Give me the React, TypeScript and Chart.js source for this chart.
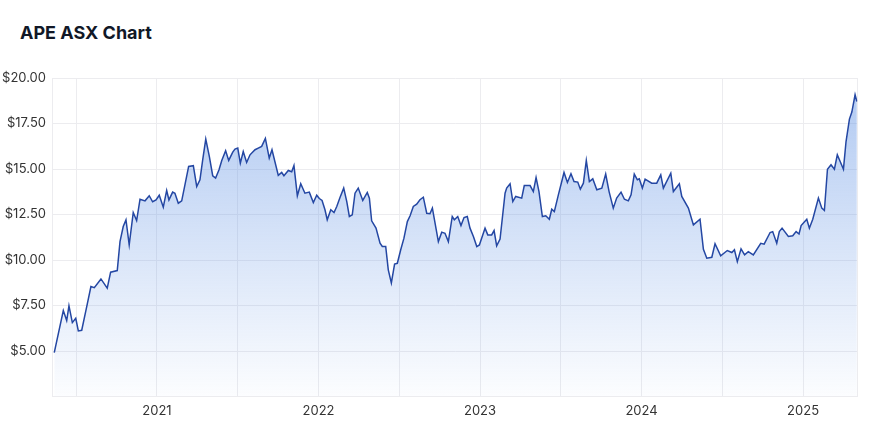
import React, { useEffect, useRef } from "react";
import { Chart, registerables } from "chart.js";

Chart.register(...registerables);

const TITLE = "APE ASX Chart";

// x positions as decimal years
const dates: number[] = [
  2020.364, 2020.42, 2020.441, 2020.455, 2020.476, 2020.497, 2020.513, 2020.534, 2020.565, 2020.591,
  2020.612, 2020.653, 2020.692, 2020.713, 2020.754, 2020.771, 2020.791, 2020.808, 2020.828, 2020.853,
  2020.874, 2020.895, 2020.926, 2020.952, 2020.973, 2020.994, 2021.014, 2021.039, 2021.06, 2021.074,
  2021.097, 2021.111, 2021.132, 2021.153, 2021.173, 2021.196, 2021.225, 2021.246, 2021.266, 2021.283,
  2021.302, 2021.324, 2021.345, 2021.363, 2021.384, 2021.401, 2021.425, 2021.444, 2021.469, 2021.483,
  2021.5, 2021.516, 2021.534, 2021.555, 2021.576, 2021.607, 2021.627, 2021.648, 2021.671, 2021.695,
  2021.712, 2021.751, 2021.772, 2021.786, 2021.813, 2021.834, 2021.848, 2021.869, 2021.89, 2021.916,
  2021.943, 2021.968, 2021.989, 2022.005, 2022.022, 2022.04, 2022.054, 2022.076, 2022.096, 2022.113,
  2022.133, 2022.156, 2022.175, 2022.191, 2022.209, 2022.226, 2022.246, 2022.274, 2022.302, 2022.315,
  2022.329, 2022.356, 2022.381, 2022.395, 2022.416, 2022.432, 2022.451, 2022.471, 2022.488, 2022.509,
  2022.529, 2022.55, 2022.567, 2022.587, 2022.608, 2022.628, 2022.649, 2022.67, 2022.69, 2022.705,
  2022.742, 2022.763, 2022.783, 2022.804, 2022.828, 2022.841, 2022.862, 2022.882, 2022.901, 2022.921,
  2022.938, 2022.959, 2022.98, 2022.996, 2023.031, 2023.048, 2023.072, 2023.087, 2023.103, 2023.124,
  2023.155, 2023.165, 2023.186, 2023.203, 2023.221, 2023.258, 2023.274, 2023.31, 2023.33, 2023.347,
  2023.365, 2023.386, 2023.407, 2023.429, 2023.444, 2023.46, 2023.485, 2023.52, 2023.541, 2023.563,
  2023.582, 2023.605, 2023.621, 2023.64, 2023.658, 2023.677, 2023.698, 2023.723, 2023.754, 2023.778,
  2023.799, 2023.825, 2023.846, 2023.873, 2023.894, 2023.918, 2023.935, 2023.955, 2023.974, 2023.986,
  2024.005, 2024.022, 2024.063, 2024.094, 2024.119, 2024.135, 2024.181, 2024.197, 2024.234, 2024.249,
  2024.29, 2024.321, 2024.362, 2024.383, 2024.404, 2024.435, 2024.455, 2024.49, 2024.531, 2024.559,
  2024.575, 2024.593, 2024.616, 2024.638, 2024.661, 2024.692, 2024.738, 2024.759, 2024.796, 2024.812,
  2024.837, 2024.853, 2024.87, 2024.909, 2024.936, 2024.957, 2024.975, 2024.988, 2025.023, 2025.039,
  2025.06, 2025.095, 2025.116, 2025.132, 2025.151, 2025.173, 2025.194, 2025.212, 2025.25, 2025.266,
  2025.287, 2025.302, 2025.322, 2025.333,
];

const prices: number[] = [
  4.91, 7.22, 6.67, 7.48, 6.56, 6.8, 6.1, 6.14, 7.44, 8.54,
  8.48, 8.96, 8.45, 9.33, 9.42, 11.01, 11.84, 12.2, 10.83, 12.61,
  12.17, 13.34, 13.25, 13.53, 13.2, 13.3, 13.56, 12.9, 13.82, 13.3,
  13.73, 13.67, 13.12, 13.25, 14.13, 15.14, 15.18, 14.04, 14.41, 15.5,
  16.64, 15.69, 14.63, 14.5, 14.96, 15.47, 16.0, 15.47, 15.93, 16.09,
  16.15, 15.32, 15.96, 15.36, 15.78, 16.06, 16.15, 16.24, 16.68, 15.6,
  16.06, 14.65, 14.81, 14.63, 14.92, 14.85, 15.19, 13.53, 14.19, 13.67,
  13.73, 13.16, 13.56, 13.38, 13.27, 12.76, 12.21, 12.76, 12.61, 12.94,
  13.43, 13.95, 13.21, 12.39, 12.48, 13.67, 13.95, 13.27, 13.71, 13.4,
  12.15, 11.75, 10.92, 10.74, 10.74, 9.46, 8.74, 9.78, 9.82, 10.56,
  11.2, 12.11, 12.43, 12.94, 13.07, 13.31, 13.45, 12.57, 12.54, 12.85,
  11.01, 11.53, 11.47, 11.01, 12.39, 12.21, 12.39, 11.89, 12.33, 12.39,
  11.75, 11.29, 10.74, 10.83, 11.75, 11.38, 11.38, 11.62, 10.78, 11.15,
  13.67, 13.95, 14.19, 13.21, 13.49, 13.4, 14.09, 14.09, 13.76, 14.53,
  13.76, 12.39, 12.43, 12.24, 12.79, 12.66, 13.58, 14.81, 14.26, 14.74,
  14.31, 14.28, 13.89, 14.22, 15.47, 14.31, 14.46, 13.86, 13.95, 14.72,
  13.76, 12.85, 13.4, 13.73, 13.34, 13.25, 13.58, 14.72, 14.41, 14.46,
  13.95, 14.44, 14.22, 14.22, 14.68, 13.95, 14.77, 13.76, 14.19, 13.49,
  12.85, 11.93, 12.24, 10.59, 10.1, 10.15, 10.89, 10.23, 10.52, 10.41,
  10.56, 9.91, 10.61, 10.28, 10.46, 10.28, 10.92, 10.87, 11.51, 11.56,
  10.92, 11.56, 11.75, 11.29, 11.33, 11.56, 11.43, 11.89, 12.24, 11.75,
  12.24, 13.4, 12.85, 12.72, 14.99, 15.23, 14.99, 15.78, 14.99, 16.51,
  17.74, 18.13, 19.08, 18.71,
];

const X_MIN = 2020.35;
const X_MAX = 2025.337;
const Y_MIN = 2.5;
const Y_MAX = 20;

const xTicks: number[] = [2020.5, 2021, 2021.5, 2022, 2022.5, 2023, 2023.5, 2024, 2024.5, 2025, X_MAX];
const xLabels: string[] = ["", "2021", "", "2022", "", "2023", "", "2024", "", "2025", ""];
const yTicks: number[] = [5, 7.5, 10, 12.5, 15, 17.5, 20];
const yLabels: string[] = ["$5.00", "$7.50", "$10.00", "$12.50", "$15.00", "$17.50", "$20.00"];

export default function App() {
  const ref = useRef<HTMLCanvasElement | null>(null);

  useEffect(() => {
    if (!ref.current) return;
    const gridColor = "#ececef";
    const chart = new Chart(ref.current, {
      type: "line",
      data: {
        datasets: [
          {
            data: dates.map((d, i) => ({ x: d, y: prices[i] })),
            borderColor: "#2447a3",
            borderWidth: 1.5,
            pointRadius: 0,
            tension: 0,
            fill: "start",
            backgroundColor: (ctx: any) => {
              const area = ctx.chart.chartArea;
              if (!area) return "rgba(120,160,230,0.3)";
              const g = ctx.chart.ctx.createLinearGradient(0, area.top, 0, area.bottom);
              g.addColorStop(0, "rgba(96,146,228,0.50)");
              g.addColorStop(1, "rgba(96,146,228,0.02)");
              return g;
            },
          },
        ],
      },
      options: {
        responsive: false,
        animation: false,
        devicePixelRatio: 1,
        layout: { padding: { left: 0, right: 22.5, top: 78, bottom: 0 } },
        plugins: { legend: { display: false }, tooltip: { enabled: false } },
        scales: {
          x: {
            type: "linear",
            min: X_MIN,
            max: X_MAX,
            afterBuildTicks: (s: any) => {
              s.ticks = xTicks.map((v) => ({ value: v }));
            },
            afterFit: (s: any) => {
              s.height = 28.5;
            },
            grid: { color: gridColor, drawTicks: false, lineWidth: 1 },
            border: { color: gridColor },
            ticks: {
              autoSkip: false,
              maxRotation: 0,
              padding: 7,
              color: "#333",
              font: { family: "Inter", size: 13 },
              callback: (v: any) => {
                const i = xTicks.indexOf(Number(v));
                return i >= 0 ? xLabels[i] : "";
              },
            },
          },
          y: {
            min: Y_MIN,
            max: Y_MAX,
            afterBuildTicks: (s: any) => {
              s.ticks = yTicks.map((v) => ({ value: v }));
            },
            afterFit: (s: any) => {
              s.width = 52;
            },
            grid: { color: gridColor, drawTicks: false, lineWidth: 1 },
            border: { color: gridColor },
            ticks: {
              padding: 6,
              color: "#333",
              font: { family: "Inter", size: 13 },
              callback: (v: any) => {
                const i = yTicks.indexOf(Number(v));
                return i >= 0 ? yLabels[i] : "";
              },
            },
          },
        },
      },
    });
    return () => chart.destroy();
  }, []);

  return (
    <div
      style={{
        position: "fixed",
        left: 0,
        top: 0,
        width: 880,
        height: 425,
        background: "#fff",
      }}
    >
      <div
        style={{
          position: "absolute",
          left: 20,
          top: 22,
          fontFamily: "Inter",
          fontWeight: 700,
          fontSize: 18,
          lineHeight: "22px",
          color: "#111827",
        }}
      >
        {TITLE}
      </div>
      <canvas
        ref={ref}
        width={880}
        height={425}
        style={{ position: "absolute", left: 0, top: 0, width: 880, height: 425 }}
      />
    </div>
  );
}
